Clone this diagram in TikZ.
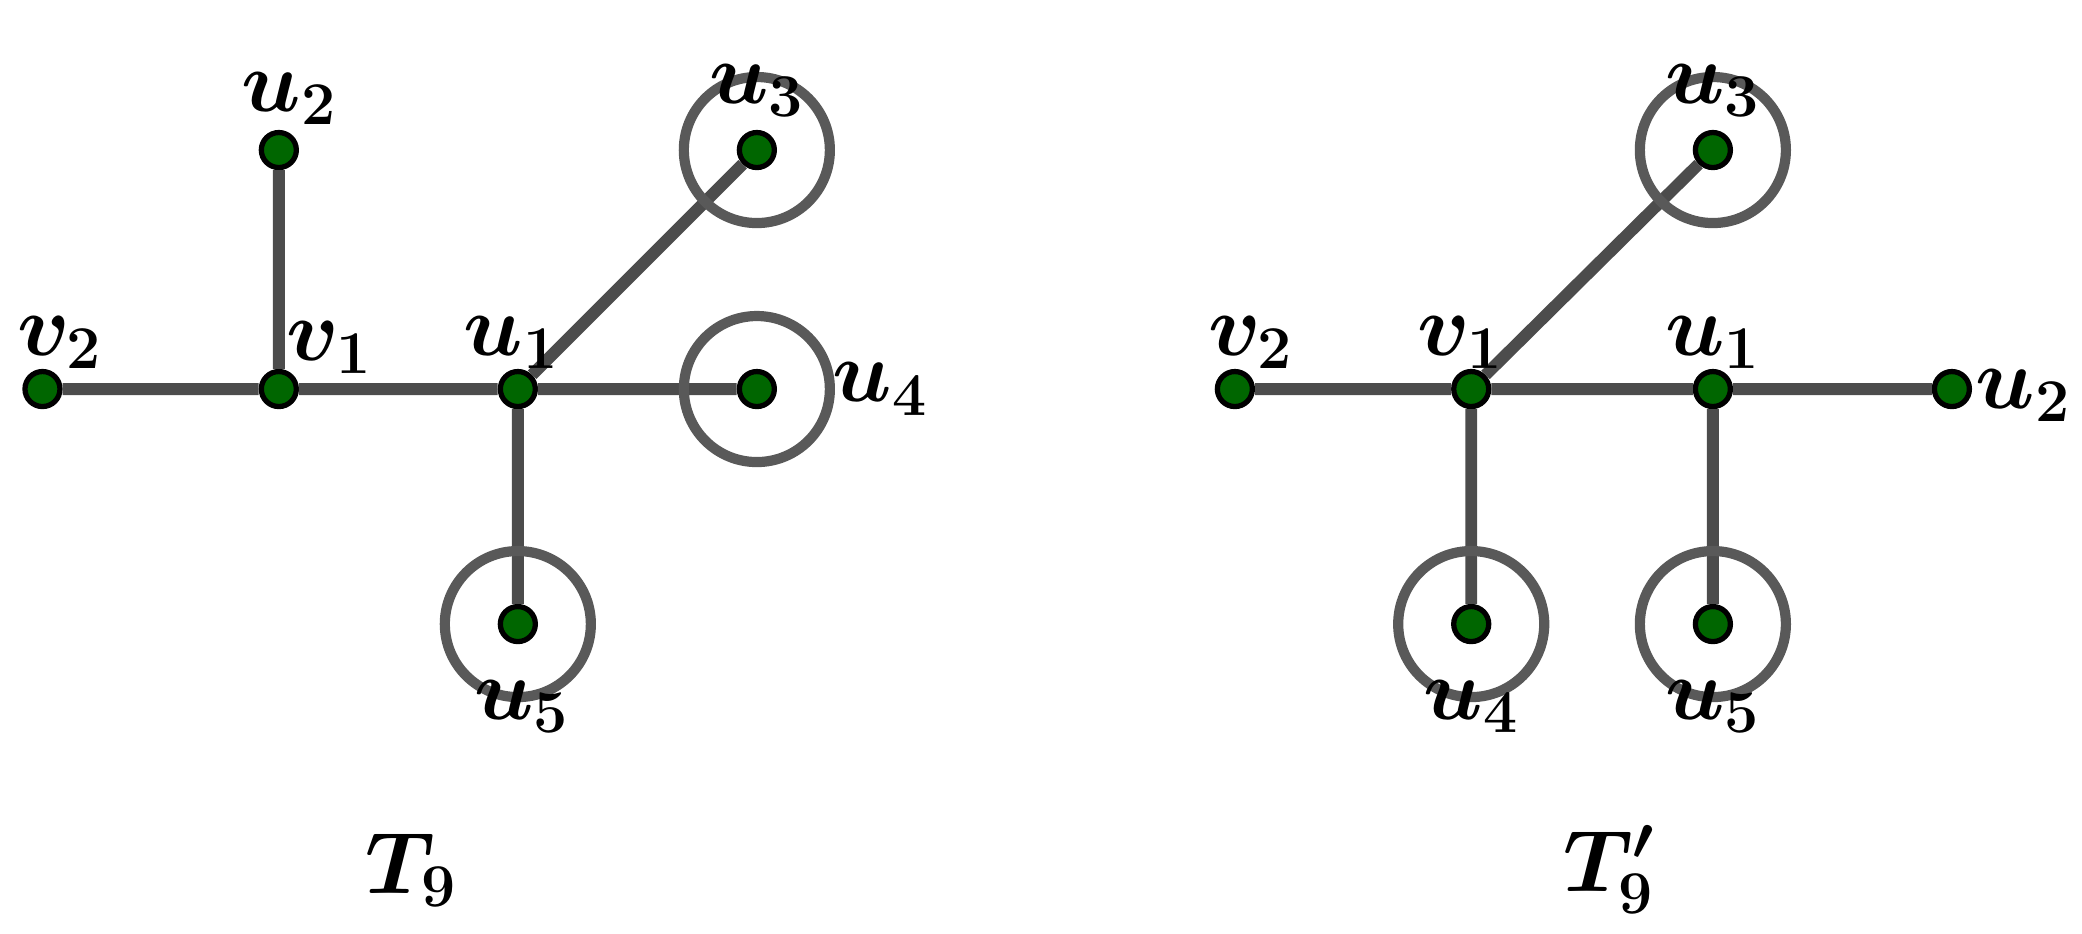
\documentclass[tikz,border=0pt]{standalone}
\usepackage{amsmath,bm}
\begin{document}
\begin{tikzpicture}[x=0.01328cm,y=-0.01328cm,
  vtx/.style={circle,draw=black,line width=1.5pt,fill=green!40!black,minimum size=0.35cm,inner sep=0pt},
  edge/.style={draw=black!70,line width=3.4pt},
  ring/.style={draw=black!65,line width=2.9pt},
  lab/.style={font=\fontsize{25}{29}\selectfont}]
\path[use as bounding box] (0,0) rectangle (1568,703);
% T9
\node[vtx] (a2) at (32,293) {};
\node[vtx] (a1) at (210,293) {};
\node[vtx] (au2) at (210,113) {};
\node[vtx] (au1) at (390,293) {};
\node[vtx] (au3) at (570,113) {};
\node[vtx] (au4) at (570,293) {};
\node[vtx] (au5) at (390,470) {};
\draw[edge] (a2)--(a1) (a1)--(au2) (a1)--(au1) (au1)--(au3) (au1)--(au4) (au1)--(au5);
\foreach \n in {au3,au4,au5}{\draw[ring] (\n) circle [radius=0.73cm];}
\node[lab] (l1) at (45,258) {$\bm{v_2}$};
\node[lab] (l2) at (248,262) {$\bm{v_1}$};
\node[lab] (l3) at (218,74) {$\bm{u_2}$};
\node[lab] (l4) at (385,258) {$\bm{u_1}$};
\node[lab] (l5) at (570,68) {$\bm{u_3}$};
\node[lab] (l6) at (663,293) {$\bm{u_4}$};
\node[lab] (l7) at (393,532) {$\bm{u_5}$};
\node[lab] (l8) at (310,655) {$\bm{T_9}$};
% T9'
\node[vtx] (b2) at (930,293) {};
\node[vtx] (b1) at (1108,293) {};
\node[vtx] (bu1) at (1290,293) {};
\node[vtx] (bu2) at (1470,293) {};
\node[vtx] (bu3) at (1290,113) {};
\node[vtx] (bu4) at (1108,470) {};
\node[vtx] (bu5) at (1290,470) {};
\draw[edge] (b2)--(b1) (b1)--(bu1) (bu1)--(bu2) (b1)--(bu3) (b1)--(bu4) (bu1)--(bu5);
\foreach \n in {bu3,bu4,bu5}{\draw[ring] (\n) circle [radius=0.73cm];}
\node[lab] (m1) at (942,258) {$\bm{v_2}$};
\node[lab] (m2) at (1100,258) {$\bm{v_1}$};
\node[lab] (m3) at (1290,258) {$\bm{u_1}$};
\node[lab] (m4) at (1524,298) {$\bm{u_2}$};
\node[lab] (m5) at (1290,68) {$\bm{u_3}$};
\node[lab] (m6) at (1108,532) {$\bm{u_4}$};
\node[lab] (m7) at (1290,532) {$\bm{u_5}$};
\node[lab] (m8) at (1212,655) {$\bm{T_9'}$};
\end{tikzpicture}
\end{document}
